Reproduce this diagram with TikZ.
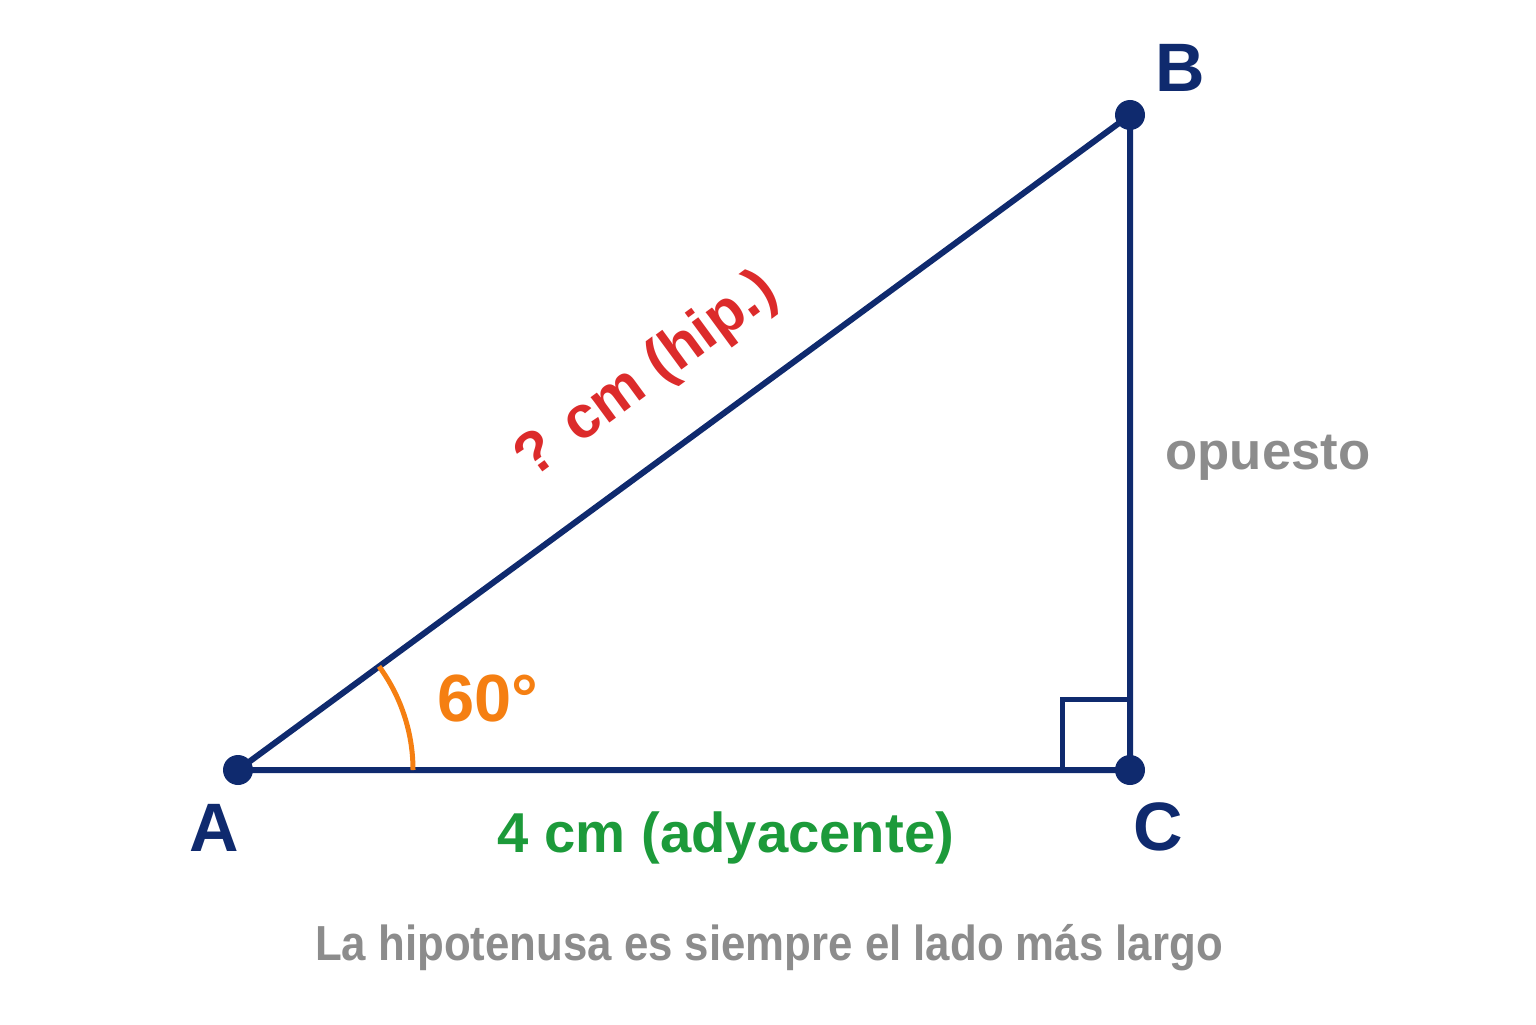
\documentclass[tikz,border=0pt]{standalone}
\usepackage{fontspec}
\setmainfont{Liberation Sans}
\usetikzlibrary{positioning}
\definecolor{navy}{HTML}{0F2A6E}
\definecolor{arcorange}{HTML}{F57F12}
\definecolor{hipred}{HTML}{DC2B2B}
\definecolor{adjgreen}{HTML}{1C9A3A}
\definecolor{notegray}{HTML}{8C8C8C}

\begin{document}
\begin{tikzpicture}[vertex_node/.style={circle,fill=navy,inner sep=0pt,minimum size=0.3cm},
    vertex_label/.style={text=navy,font=\fontsize{19.5}{23}\selectfont\bfseries},
    side_line/.style={draw=navy,line width=0.06cm,line join=round},
    side_label/.style={font=\fontsize{16}{19}\selectfont\bfseries}]

    \useasboundingbox (0,0) rectangle (15.36,10.24);

    \node[vertex_node] (A) at (2.38, 2.54) {};
    \node[vertex_node] (B) at (11.30, 9.09) {};
    \node[vertex_node] (C) at (11.30, 2.54) {};
    \draw[side_line] (A.center) -- (B.center) -- (C.center) -- (A.center);

    % angulo recto y angulo en A
    \draw[navy, line width=0.05cm] ([xshift=-0.68cm]C.center) |- ([yshift=0.71cm]C.center);
    \draw[arcorange, line width=0.05cm] ([xshift=1.75cm]A.center) arc[start angle=0, end angle=36.3, radius=1.75cm];

    \node[vertex_label] (labelA) at (2.14, 1.96) {A};
    \node[vertex_label] (labelB) at (11.80, 9.56) {B};
    \node[vertex_label] (labelC) at (11.58, 1.97) {C};

    \node[text=arcorange, font=\fontsize{19}{23}\selectfont\bfseries] (angle) at (4.88, 3.25) {60°};
    \node[side_label, text=hipred, font=\fontsize{17}{21}\selectfont\bfseries, rotate=36.3] (hip) at (6.47, 6.48) {? cm (hip.)};
    \node[side_label, text=adjgreen] (adj) at (7.26, 1.86) {4 cm (adyacente)};
    \node[side_label, text=notegray, font=\fontsize{15}{18}\selectfont\bfseries] (opp) at (12.68, 5.66) {opuesto};

    \node[text=notegray, font=\fontsize{14}{17}\selectfont\bfseries, xscale=0.89] (note) at (7.69, 0.76) {La hipotenusa es siempre el lado más largo};
\end{tikzpicture}
\end{document}
